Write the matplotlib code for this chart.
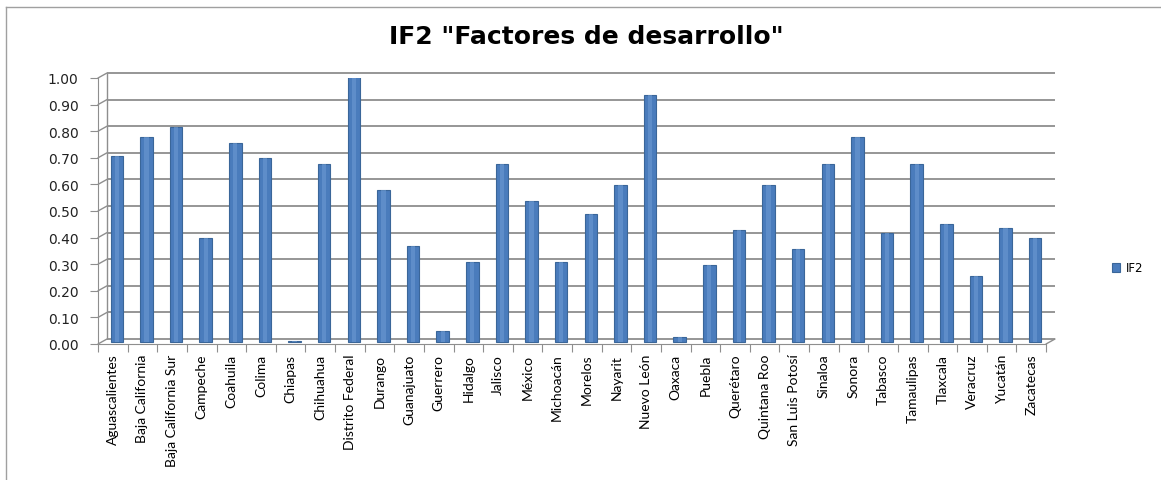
import matplotlib
matplotlib.use("Agg")
import matplotlib.pyplot as plt
from matplotlib.transforms import offset_copy
from matplotlib.lines import Line2D

estados = ["Aguascalientes", "Baja California", "Baja California Sur", "Campeche",
           "Coahuila", "Colima", "Chiapas", "Chihuahua", "Distrito Federal",
           "Durango", "Guanajuato", "Guerrero", "Hidalgo", "Jalisco", "México",
           "Michoacán", "Morelos", "Nayarit", "Nuevo León", "Oaxaca", "Puebla",
           "Querétaro", "Quintana Roo", "San Luis Potosí", "Sinaloa", "Sonora",
           "Tabasco", "Tamaulipas", "Tlaxcala", "Veracruz", "Yucatán", "Zacatecas"]
if2 = [0.70, 0.77, 0.81, 0.39, 0.75, 0.69, 0.005, 0.67, 1.00, 0.57, 0.36, 0.04,
       0.30, 0.67, 0.53, 0.30, 0.48, 0.59, 0.93, 0.02, 0.29, 0.42, 0.59, 0.35,
       0.67, 0.77, 0.41, 0.67, 0.445, 0.25, 0.43, 0.39]
yticks = [0.0, 0.1, 0.2, 0.3, 0.4, 0.5, 0.6, 0.7, 0.8, 0.9, 1.0]

W, H = 1161, 481
fig = plt.figure(figsize=(W / 100, H / 100), dpi=100)
ax = fig.add_axes([98 / W, 1 - 345 / H, 948 / W, 266 / H])

n = len(estados)
x = list(range(n))
ax.set_xlim(-0.5, n - 0.5)
ax.set_ylim(0, 1.0)

grid_c = "#8e8e8e"
line = dict(arrowstyle="-", color=grid_c, lw=1.0, shrinkA=0, shrinkB=0)

# back wall (pseudo 3D offset)
back = offset_copy(ax.transData, fig=fig, x=9, y=5, units="dots")
ax.hlines(yticks, -0.5, n - 0.5, colors=grid_c, lw=1.3, transform=back,
          clip_on=False, zorder=1)
ax.vlines(-0.5, 0, 1.0, colors=grid_c, lw=1.0, transform=back, clip_on=False, zorder=1)
for v in yticks:
    ax.annotate("", xy=(-0.5, v), xycoords=back, xytext=(-0.5, v), textcoords="data",
                arrowprops=line)
ax.annotate("", xy=(n - 0.5, 0), xycoords=back, xytext=(n - 0.5, 0), textcoords="data",
            arrowprops=line)

bar_tr = offset_copy(ax.transData, fig=fig, x=4, y=2, units="dots")
ax.bar(x, if2, width=0.42, color="#4a7cbc", edgecolor="#3a6699", lw=0.8,
       transform=bar_tr, zorder=3, label="IF2")
ax.bar(x, if2, width=0.14, color="#6d9ad3", lw=0, alpha=0.6,
       transform=bar_tr, zorder=4)

for s in ["top", "right"]:
    ax.spines[s].set_visible(False)
ax.spines["left"].set_color(grid_c)
ax.spines["bottom"].set_color(grid_c)

ax.set_yticks(yticks)
ax.set_yticklabels([f"{v:.2f}" for v in yticks], fontsize=10, family="DejaVu Sans",
                   color="#222222")
ax.set_xticks([i - 0.5 for i in range(n + 1)])
ax.set_xticklabels([])
ax.set_xticks(x, minor=True)
ax.set_xticklabels(estados, minor=True, rotation=90,
                   family=["Lato", "DejaVu Sans"], fontsize=10)
ax.tick_params(axis="x", which="minor", length=0, pad=7)
ax.tick_params(axis="both", which="major", color=grid_c, length=6)
ax.tick_params(axis="y", pad=8)

fig.text(586 / W, 1 - 37 / H, 'IF2 "Factores de desarrollo"', ha="center", va="center",
         fontsize=18, fontweight="bold", family="DejaVu Sans")

# chart area border (left and top edges visible)
fig.add_artist(Line2D([6 / W, 6 / W], [0, 1 - 8 / H], color="#a0a0a0", lw=1))
fig.add_artist(Line2D([6 / W, 1], [1 - 8 / H, 1 - 8 / H], color="#a0a0a0", lw=1))

h, l = ax.get_legend_handles_labels()
fig.legend(h[:1], l[:1], loc="center left", bbox_to_anchor=(1101 / W, 1 - 269 / H),
           frameon=False, fontsize=8.5, handlelength=0.7, handleheight=0.7,
           handletextpad=0.5)

fig.savefig("out.png", dpi=100)
